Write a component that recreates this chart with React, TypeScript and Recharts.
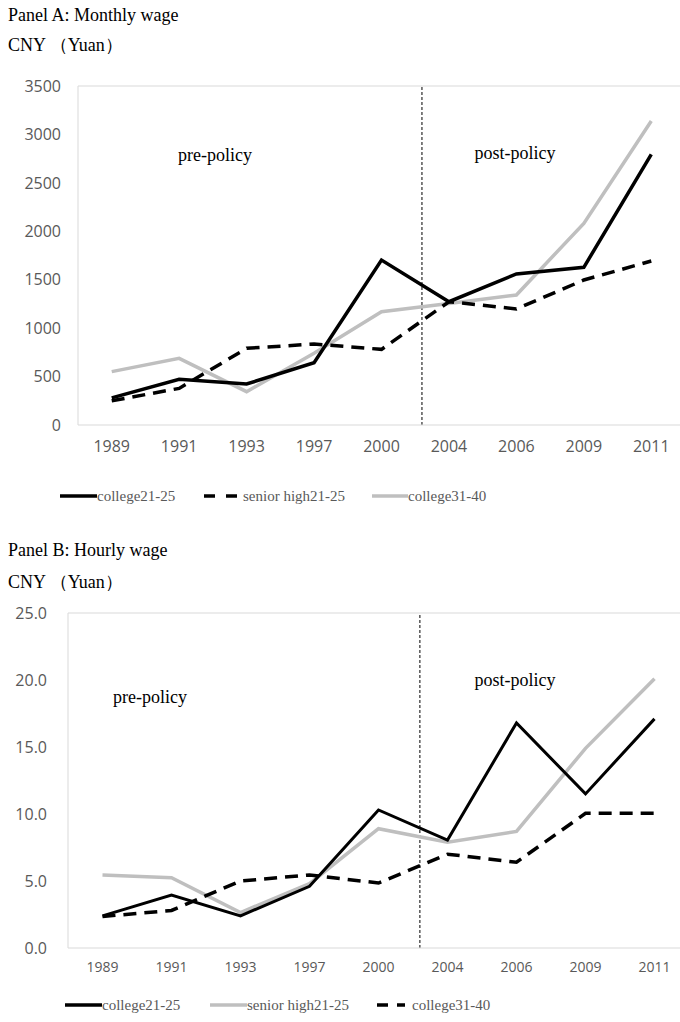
import { LineChart, Line, XAxis, YAxis, ReferenceLine } from 'recharts';

const years = ['1989', '1991', '1993', '1997', '2000', '2004', '2006', '2009', '2011'];

// Panel A: monthly wage (CNY)
const monthlyCollege2125 = [280, 472, 423, 643, 1703, 1273, 1559, 1628, 2795];
const monthlySenior2125 = [250, 378, 792, 836, 781, 1273, 1198, 1497, 1693];
const monthlyCollege3140 = [551, 688, 344, 740, 1170, 1255, 1342, 2082, 3138];
const monthlyTicks = [0, 500, 1000, 1500, 2000, 2500, 3000, 3500];

// Panel B: hourly wage (CNY)
const hourlyCollege2125 = [2.4, 3.95, 2.4, 4.6, 10.3, 8.05, 16.8, 11.5, 17.1];
const hourlySenior2125 = [5.45, 5.25, 2.65, 4.8, 8.9, 7.9, 8.7, 14.9, 20.1];
const hourlyCollege3140 = [2.35, 2.8, 5.0, 5.45, 4.85, 7.0, 6.4, 10.05, 10.05];
const hourlyTicks = [0, 5, 10, 15, 20, 25];

const policyCut = 4.6; // between 2000 and 2004

const monthlyData = years.map((y, i) => ({
  i,
  year: y,
  c2125: monthlyCollege2125[i],
  s2125: monthlySenior2125[i],
  c3140: monthlyCollege3140[i],
}));

const hourlyData = years.map((y, i) => ({
  i,
  year: y,
  c2125: hourlyCollege2125[i],
  s2125: hourlySenior2125[i],
  c3140: hourlyCollege3140[i],
}));

const TICK_COLOR = '#595959';
const AXIS_COLOR = '#d9d9d9';
const SERIF = '"Liberation Serif", "Times New Roman", serif';
const SANS = '"Open Sans", "Noto Sans", sans-serif';
const xIdx = years.map((_, i) => i);

function Label({ x, y, text, size = 18, center = false, color = '#000' }: { x: number; y: number; text: string; size?: number; center?: boolean; color?: string }) {
  return (
    <div
      style={{
        position: 'absolute',
        left: x,
        top: y,
        transform: center ? 'translate(-50%, -50%)' : 'translateY(-50%)',
        fontFamily: SERIF,
        fontSize: size,
        lineHeight: 1,
        color,
        whiteSpace: 'nowrap',
      }}
    >
      {text}
    </div>
  );
}

type LegendItem = { label: string; x1: number; x2: number; tx: number; color: string; dash?: string };

function LegendRow({ top, items }: { top: number; items: LegendItem[] }) {
  return (
    <svg style={{ position: 'absolute', left: 0, top: top - 12 }} width={680} height={24}>
      {items.map((it) => (
        <g key={it.label}>
          <line x1={it.x1} x2={it.x2} y1={12} y2={12} stroke={it.color} strokeWidth={3.5} strokeDasharray={it.dash} />
          <text x={it.tx} y={12} dominantBaseline="central" fontFamily={SERIF} fontSize={15} fill={TICK_COLOR}>
            {it.label}
          </text>
        </g>
      ))}
    </svg>
  );
}

export default function App() {
  return (
    <div style={{ position: 'relative', width: 680, height: 1022, overflow: 'hidden', background: '#fff' }}>
      <style>{'body{margin:0;overflow:hidden}'}</style>

      <Label x={8} y={15} text="Panel A: Monthly wage" />
      <Label x={8} y={45} text="CNY （Yuan）" />

      <div style={{ position: 'absolute', left: 0, top: 0 }}>
        <LineChart width={690} height={470} data={monthlyData} margin={{ top: 86, right: 5, bottom: 15, left: 0 }}>
          <XAxis
            dataKey="i"
            type="number"
            domain={[-0.5, 8.5]}
            ticks={xIdx}
            tickFormatter={(v: number) => years[v] ?? ''}
            height={30}
            tickLine={false}
            axisLine={{ stroke: AXIS_COLOR }}
            tick={{ fill: TICK_COLOR, fontSize: 16, fontFamily: SANS }}
            tickMargin={10}
            interval={0}
          />
          <YAxis
            domain={[0, 3500]}
            ticks={monthlyTicks}
            width={78}
            tickLine={false}
            axisLine={{ stroke: AXIS_COLOR }}
            tick={{ fill: TICK_COLOR, fontSize: 16, fontFamily: SANS }}
            tickMargin={11}
          />
          <ReferenceLine y={3500} stroke={AXIS_COLOR} />
          <ReferenceLine x={policyCut} stroke="#000" strokeDasharray="3 2" />
          <Line dataKey="c3140" stroke="#bfbfbf" strokeWidth={3.5} dot={false} isAnimationActive={false} />
          <Line dataKey="s2125" stroke="#000" strokeWidth={3.5} strokeDasharray="13 8" dot={false} isAnimationActive={false} />
          <Line dataKey="c2125" stroke="#000" strokeWidth={3.5} dot={false} isAnimationActive={false} />
        </LineChart>
      </div>

      <Label x={215} y={155} text="pre-policy" center />
      <Label x={515} y={153} text="post-policy" center />

      <LegendRow
        top={496}
        items={[
          { label: 'college21-25', x1: 60, x2: 97, tx: 97, color: '#000' },
          { label: 'senior high21-25', x1: 204, x2: 237, tx: 243, color: '#000', dash: '11 11' },
          { label: 'college31-40', x1: 372, x2: 408, tx: 408, color: '#bfbfbf' },
        ]}
      />

      <Label x={8} y={550} text="Panel B: Hourly wage" />
      <Label x={8} y={582} text="CNY （Yuan）" />

      <div style={{ position: 'absolute', left: 0, top: 530 }}>
        <LineChart width={692} height={458} data={hourlyData} margin={{ top: 83, right: 3, bottom: 10, left: 0 }}>
          <XAxis
            dataKey="i"
            type="number"
            domain={[-0.5, 8.5]}
            ticks={xIdx}
            tickFormatter={(v: number) => years[v] ?? ''}
            height={30}
            tickLine={false}
            axisLine={{ stroke: AXIS_COLOR }}
            tick={{ fill: TICK_COLOR, fontSize: 14, fontFamily: SANS }}
            tickMargin={8}
            interval={0}
          />
          <YAxis
            domain={[0, 25]}
            ticks={hourlyTicks}
            width={68}
            tickLine={false}
            axisLine={{ stroke: AXIS_COLOR }}
            tick={{ fill: TICK_COLOR, fontSize: 16, fontFamily: SANS }}
            tickFormatter={(v: number) => v.toFixed(1)}
            tickMargin={15}
          />
          <ReferenceLine y={25} stroke={AXIS_COLOR} />
          <ReferenceLine x={policyCut} stroke="#000" strokeDasharray="3 2" />
          <Line dataKey="s2125" stroke="#bfbfbf" strokeWidth={3.5} dot={false} isAnimationActive={false} />
          <Line dataKey="c3140" stroke="#000" strokeWidth={3.5} strokeDasharray="13 8" dot={false} isAnimationActive={false} />
          <Line dataKey="c2125" stroke="#000" strokeWidth={3} dot={false} isAnimationActive={false} />
        </LineChart>
      </div>

      <Label x={150} y={697} text="pre-policy" center />
      <Label x={515} y={680} text="post-policy" center />

      <LegendRow
        top={1005}
        items={[
          { label: 'college21-25', x1: 65, x2: 102, tx: 102, color: '#000' },
          { label: 'senior high21-25', x1: 210, x2: 247, tx: 247, color: '#bfbfbf' },
          { label: 'college31-40', x1: 377, x2: 405, tx: 412, color: '#000', dash: '11 9' },
        ]}
      />
    </div>
  );
}
